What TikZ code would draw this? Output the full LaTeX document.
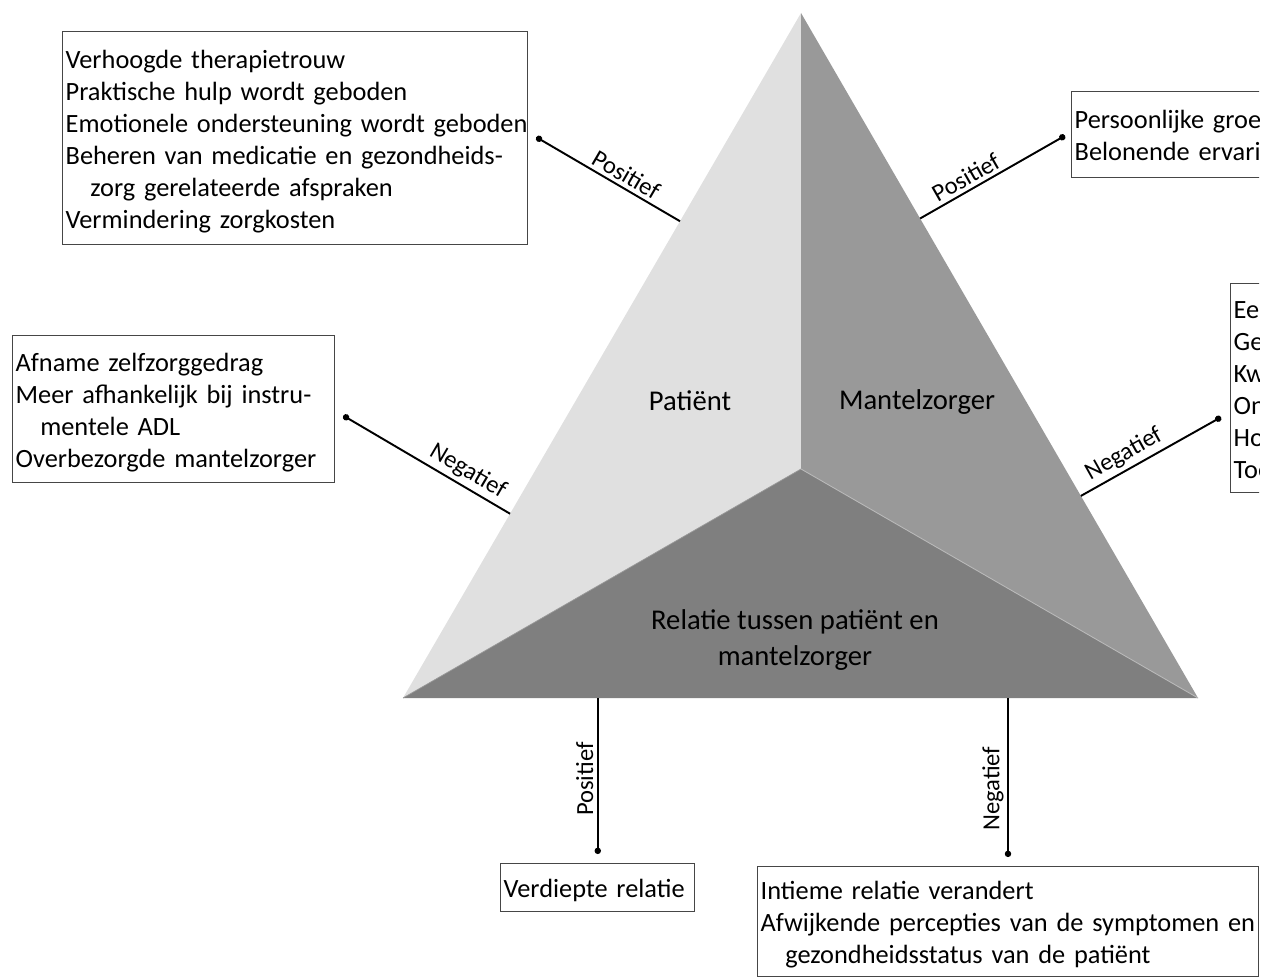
\documentclass[tikz,border=0pt]{standalone}
\usepackage{fontspec}
\setmainfont{Carlito}
\usetikzlibrary{arrows.meta}
\usetikzlibrary{calc}
\usetikzlibrary{positioning}

\definecolor{patface}{RGB}{224,224,224}
\definecolor{mzface}{RGB}{153,153,153}
\definecolor{relface}{RGB}{127,127,127}
\definecolor{boxline}{RGB}{70,70,70}

\newcommand{\boxlines}[1]{\raisebox{-2pt}[\height][\depth]{\begin{tabular}{@{}l@{}}#1\end{tabular}}}

\begin{document}
\begin{tikzpicture}[x=0.02cm,y=-0.02cm,
  infobox/.style={draw=boxline,line width=0.8pt,anchor=north west,align=left,
    inner xsep=0.06cm,inner ysep=0pt,font=\fontsize{15}{18.2}\selectfont},
  conn/.style={line width=1.1pt,-{Circle[length=3.6pt]}},
  connlbl/.style={font=\fontsize{14}{16}\selectfont,inner sep=2pt},
  facelbl/.style={font=\fontsize{16.3}{20.4}\selectfont,align=center}]
\useasboundingbox (0,0) rectangle (1268,979);
\clip (0,0) rectangle (1259,979);

% triangle
\coordinate (A) at (801,13);
\coordinate (BL) at (403,698);
\coordinate (BR) at (1198,698);
\coordinate (C) at (801,469);
\fill[patface] (A) -- (BL) -- (C) -- cycle;
\fill[mzface] (A) -- (C) -- (BR) -- cycle;
\fill[relface] (BL) -- (C) -- (BR) -- cycle;
\draw[gray!55,line width=0.5pt] (C) -- (BR);
\draw[gray!80,line width=0.4pt] (BL) -- (C);

\node[facelbl] (pat) at (690,401) {Patiënt};
\node[facelbl] (mz) at (917,402) {Mantelzorger};
\node[facelbl] (rel) at (795,640) {Relatie tussen patiënt en\\mantelzorger};

% boxes
\node[infobox,minimum width=9.30cm,minimum height=4.26cm,text width=9.18cm] (tlbox) at (62,31) {\boxlines{Verhoogde therapietrouw\\
Praktische hulp wordt geboden\\
Emotionele ondersteuning wordt geboden\\
Beheren van medicatie en gezondheids-\\
\hspace*{14pt}zorg gerelateerde afspraken\\
Vermindering zorgkosten}};
\node[infobox,minimum width=4.80cm,minimum height=1.72cm,text width=4.68cm] (trbox) at (1071,91) {\boxlines{Persoonlijke groei\\
Belonende ervaringen}};
\node[infobox,minimum width=6.44cm,minimum height=2.94cm,text width=6.32cm] (lmbox) at (12,335) {\boxlines{Afname zelfzorggedrag\\
Meer afhankelijk bij instru-\\
\hspace*{14pt}mentele ADL\\
Overbezorgde mantelzorger}};
\node[infobox,minimum width=6.00cm,minimum height=4.18cm,text width=5.88cm] (rmbox) at (1230,283) {\boxlines{Eenzaamheid\\
Gezondheidsproblemen\\
Kwaliteit van leven daalt\\
Onzekerheid\\
Hogere zorglast\\
Toename van stress}};
\node[infobox,minimum width=3.88cm,minimum height=0.96cm,text width=3.76cm] (blbox) at (500,863) {\boxlines{Verdiepte relatie}};
\node[infobox,minimum width=10.02cm,minimum height=2.20cm,text width=9.90cm] (brbox) at (757,866) {\boxlines{Intieme relatie verandert\\
Afwijkende percepties van de symptomen en\\
\hspace*{14pt}gezondheidsstatus van de patiënt}};

% connectors
\coordinate (s1) at ($(A)!0.304!(BL)$);
\coordinate (s2) at ($(A)!0.300!(BR)$);
\coordinate (s3) at ($(A)!0.731!(BL)$);
\coordinate (s4) at ($(A)!0.705!(BR)$);
\coordinate (s5) at ($(BL)!0.245!(BR)$);
\coordinate (s6) at ($(BL)!0.761!(BR)$);
\draw[conn] (s1) -- node[connlbl,sloped,above,pos=0.42] {Positief} ($(tlbox.east)+(8,-1)$);
\draw[conn] (s2) -- node[connlbl,sloped,above,pos=0.36] {Positief} ($(trbox.west)+(-6,1)$);
\draw[conn] (s3) -- node[connlbl,sloped,above,pos=0.30] {Negatief} ($(lmbox.east)+(8,6.5)$);
\draw[conn] (s4) -- node[connlbl,sloped,above,pos=0.36] {Negatief} ($(rmbox.west)+(-9,29)$);
\draw[conn] (s5) -- node[connlbl,rotate=90,anchor=south,pos=0.52] {Positief} ($(s5 |- blbox.north)+(0,-9)$);
\draw[conn] (s6) -- node[connlbl,rotate=90,anchor=south,pos=0.57] {Negatief} ($(s6 |- brbox.north)+(0,-9)$);

\end{tikzpicture}
\end{document}
